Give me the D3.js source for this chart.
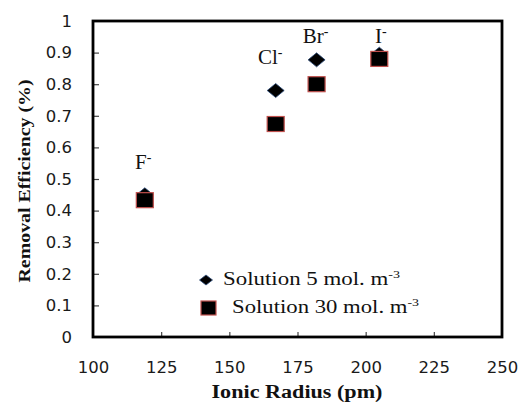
<!DOCTYPE html>
<html>
<head>
<meta charset="utf-8">
<script src="https://cdn.jsdelivr.net/npm/d3@7"></script>
<style>
  html, body { margin: 0; padding: 0; background: #fff; }
  svg { display: block; }
</style>
</head>
<body>
<svg id="chart" width="520" height="403"></svg>
<script>
// ---- data ----
const ionicRadius = [119, 167, 182, 205];
const solution5 = [0.45, 0.78, 0.877, 0.895];
const solution30 = [0.433, 0.674, 0.80, 0.88];
const ionNames = ["F", "Cl", "Br", "I"];
const ionLabelX = [115.4, 160.5, 176.9, 203.4];
const ionLabelY = [0.533, 0.864, 0.930, 0.930];
const xTicks = [100, 125, 150, 175, 200, 225, 250];
const yTicks = [0, 0.1, 0.2, 0.3, 0.4, 0.5, 0.6, 0.7, 0.8, 0.9, 1];
const seriesNames = ["Solution 5 mol. m", "Solution 30 mol. m"];

// ---- layout ----
const svg = d3.select("#chart");
const L = 93, R = 502, T = 21, B = 337;
const x = d3.scaleLinear().domain([100, 250]).range([L, R]);
const y = d3.scaleLinear().domain([0, 1]).range([B, T]);

const tickFont = "'DejaVu Sans', Verdana, sans-serif";
const serif = "'Liberation Serif', 'Times New Roman', serif";

// axes
const yAxis = d3.axisLeft(y).tickValues(yTicks).tickFormat(d => d3.format("")(+d.toFixed(1)))
  .tickSizeInner(-6).tickSizeOuter(0).tickPadding(21);
const gy = svg.append("g").attr("transform", `translate(${L},0)`).call(yAxis);
const xAxis = d3.axisBottom(x).tickValues(xTicks).tickFormat(d3.format("d"))
  .tickSizeInner(-5).tickSizeOuter(0).tickPadding(24);
const gx = svg.append("g").attr("transform", `translate(0,${B})`).call(xAxis);

[gx, gy].forEach(g => {
  g.select(".domain").remove();
  g.selectAll(".tick line").attr("stroke", "#444").attr("stroke-width", 1.2);
  g.selectAll(".tick text").attr("fill", "#1a1a1a")
    .style("font-family", tickFont).style("font-size", "16.5px");
});
// hide ticks at ends (frame covers them)
gy.selectAll(".tick line").filter(d => d === 0 || d === 1).remove();
gx.selectAll(".tick line").filter(d => d === 100 || d === 250).remove();

// frame
svg.append("rect")
  .attr("x", x(100)).attr("y", y(1))
  .attr("width", x(250) - x(100)).attr("height", y(0) - y(1))
  .attr("fill", "none").attr("stroke", "#000").attr("stroke-width", 2.8);

// diamonds (series 5)
const diamond = (w, h) => `M0,${-h/2}L${w/2},0L0,${h/2}L${-w/2},0Z`;
svg.append("g").selectAll("path")
  .data(ionicRadius.map((r, i) => [r, solution5[i]]))
  .join("path")
  .attr("d", diamond(17, 14))
  .attr("transform", d => `translate(${x(d[0])},${y(d[1])})`)
  .attr("fill", "#000").attr("stroke", "#2a4a7a").attr("stroke-width", 0.8);

// squares (series 30)
svg.append("g").selectAll("rect")
  .data(ionicRadius.map((r, i) => [r, solution30[i]]))
  .join("rect")
  .attr("x", d => x(d[0]) - 8.5).attr("y", d => y(d[1]) - 7.5)
  .attr("width", 17).attr("height", 15)
  .attr("fill", "#000").attr("stroke", "#c0504d").attr("stroke-width", 1.2);

// ion labels
const ionT = svg.append("g").selectAll("text")
  .data(ionNames.map((n, i) => [n, ionLabelX[i], ionLabelY[i]]))
  .join("text")
  .attr("x", d => x(d[1])).attr("y", d => y(d[2]))
  .style("font-family", serif).style("font-size", "21px").attr("fill", "#111");
ionT.append("tspan").text(d => d[0]);
ionT.append("tspan").attr("dy", -7).style("font-size", "14px").text("-");

// legend
const lg = svg.append("g");
lg.append("path").attr("d", diamond(13, 10))
  .attr("transform", "translate(206,280)")
  .attr("fill", "#000").attr("stroke", "#2a4a7a").attr("stroke-width", 0.8);
lg.append("rect").attr("x", 201).attr("y", 301).attr("width", 15).attr("height", 14)
  .attr("fill", "#000").attr("stroke", "#c0504d").attr("stroke-width", 1.2);
const legPos = [[223, 285, 177], [232, 313, 187]];
seriesNames.forEach((s, i) => {
  const t = lg.append("text").attr("x", legPos[i][0]).attr("y", legPos[i][1])
    .style("font-family", serif).style("font-size", "18px").attr("fill", "#111")
    .attr("textLength", legPos[i][2]).attr("lengthAdjust", "spacingAndGlyphs");
  t.append("tspan").text(s);
  t.append("tspan").attr("dy", -7).style("font-size", "11px").text("-3");
});

// axis titles
svg.append("text")
  .attr("transform", "translate(30,181) rotate(-90)")
  .attr("text-anchor", "middle")
  .style("font-family", serif).style("font-size", "16px").style("font-weight", "bold")
  .attr("fill", "#111")
  .attr("textLength", 203).attr("lengthAdjust", "spacingAndGlyphs")
  .text("Removal  Efficiency (%)");
svg.append("text")
  .attr("x", 297).attr("y", 398)
  .attr("text-anchor", "middle")
  .style("font-family", serif).style("font-size", "18px").style("font-weight", "bold")
  .attr("fill", "#111")
  .attr("textLength", 171).attr("lengthAdjust", "spacingAndGlyphs")
  .text("Ionic Radius  (pm)");
</script>
</body>
</html>
